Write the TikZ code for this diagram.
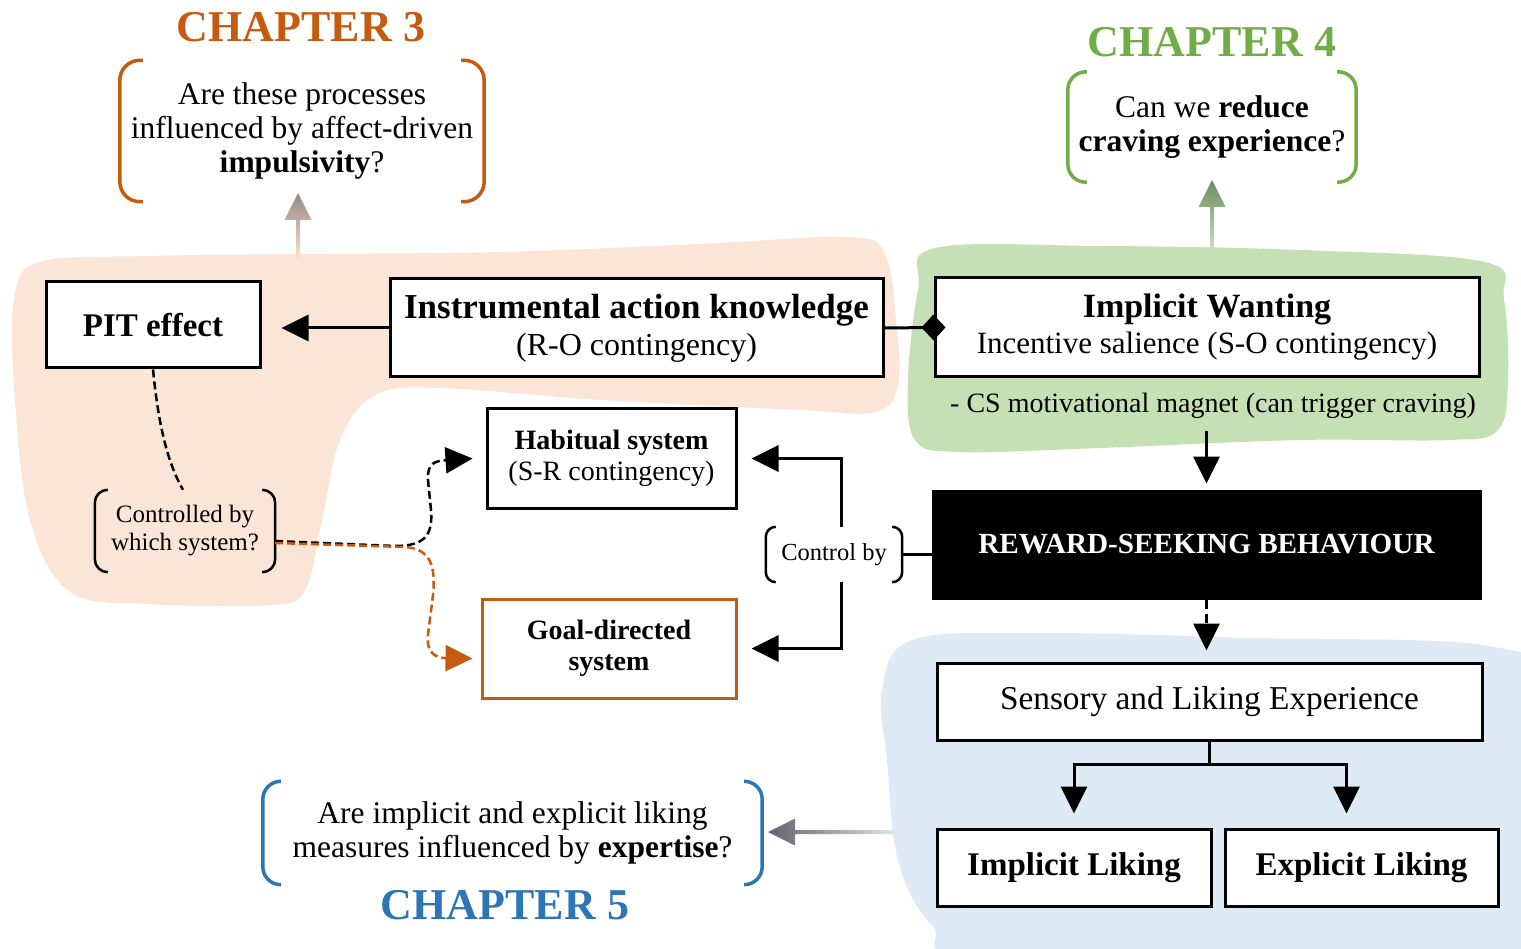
\documentclass[tikz,border=0pt]{standalone}
\usepackage{fontspec}
\setmainfont{Liberation Serif}
\usetikzlibrary{arrows.meta}

\definecolor{chthree}{HTML}{C55A11}
\definecolor{chfour}{HTML}{70AD47}
\definecolor{chfive}{HTML}{2E75B6}
\definecolor{peachbg}{HTML}{FBE5D6}
\definecolor{greenbg}{HTML}{C5E0B4}
\definecolor{bluebg}{HTML}{DEEBF7}

\tikzset{
  box/.style={draw, line width=3pt, fill=white, align=center, inner sep=2pt},
  arr/.style={line width=3pt, -{Triangle[length=27pt,width=26pt]}},
  dasharr/.style={arr, dashed, dash pattern=on 9pt off 5pt},
  qdash/.style={line width=2.5pt, dashed, dash pattern=on 8pt off 4pt},
  qtext/.style={align=center, inner sep=0pt, font=\fontsize{31.5}{34}\selectfont},
  chap/.style={font=\fontsize{44}{50}\selectfont\bfseries},
  brk/.style={line width=3.5pt, rounded corners=#1},
  brk/.default=20pt
}

% brackets round a question node: node, stub, style
\newcommand{\qbrackets}[3]{%
  \draw[#3] ([xshift=#2]#1.north west) -| (#1.west) |- ([xshift=#2]#1.south west);
  \draw[#3] ([xshift=-#2]#1.north east) -| (#1.east) |- ([xshift=-#2]#1.south east);
}

\begin{document}
\begin{tikzpicture}[x=1pt, y=-1pt]
  \useasboundingbox (0,0) rectangle (1521,949);

  % background areas
  \fill[peachbg] plot[smooth cycle, tension=0.6] coordinates {
    (14,300) (40,262) (150,256) (300,254) (500,252) (700,244) (850,237)
    (885,255) (896,320) (898,385) (875,412) (800,410) (600,400) (440,388)
    (375,395) (340,440) (322,520) (305,590) (270,605) (150,604) (70,592)
    (30,520) (15,400)};
  \fill[greenbg] plot[smooth cycle, tension=0.6] coordinates {
    (935,248) (1100,246) (1300,250) (1485,262) (1504,300) (1508,380)
    (1498,430) (1450,440) (1300,440) (1100,448) (960,452) (915,440)
    (908,380) (918,290)};
  \fill[bluebg] plot[smooth cycle, tension=0.6] coordinates {
    (912,640) (1040,633) (1250,638) (1495,647) (1540,700) (1540,960)
    (1000,960) (932,925) (898,860) (887,760) (882,690)};

  % chapter questions
  \node[chap, text=chthree] (ch3) at (301,27) {CHAPTER 3};
  \node[qtext, minimum width=364pt, minimum height=141pt] (q3) at (302,131)
    {Are these processes\\ influenced by affect-driven\\ \textbf{impulsivity}?};
  \node[chap, text=chfour] (ch4) at (1212,42) {CHAPTER 4};
  \node[qtext, minimum width=288pt, minimum height=110pt] (q4) at (1212,127)
    {Can we \textbf{reduce}\\ \textbf{craving experience}?};
  \node[qtext, minimum width=499pt, minimum height=103pt] (q5) at (512.5,833)
    {Are implicit and explicit liking\\ measures influenced by \textbf{expertise}?};
  \node[chap, text=chfive] (ch5) at (505,905) {CHAPTER 5};
  \qbrackets{q3}{23pt}{brk, chthree}
  \qbrackets{q4}{19pt}{brk=18pt, chfour}
  \qbrackets{q5}{17pt}{brk=18pt, chfive}

  % boxes
  \node[box, minimum width=214pt, minimum height=86pt, font=\fontsize{33}{37}\selectfont\bfseries]
    (pit) at (153,325) {PIT effect};
  \node[box, minimum width=493pt, minimum height=98pt, font=\fontsize{32}{37}\selectfont]
    (ia) at (636.5,328) {\fontsize{35}{37}\selectfont\textbf{Instrumental action knowledge}\\ (R-O contingency)};
  \node[box, minimum width=544pt, minimum height=99pt, font=\fontsize{31}{36}\selectfont]
    (iw) at (1207,327.5) {\fontsize{34}{36}\selectfont\textbf{Implicit Wanting}\\ Incentive salience (S-O contingency)};
  \node[inner sep=0pt, font=\fontsize{28}{32}\selectfont] (cs) at (1213,406)
    {- CS motivational magnet (can trigger craving)};
  \node[box, minimum width=249pt, minimum height=99pt, font=\fontsize{28}{31}\selectfont]
    (hab) at (611.5,458.5) {\textbf{Habitual system}\\ (S-R contingency)};
  \node[box, draw=chthree, minimum width=254pt, minimum height=99pt, font=\fontsize{28}{31}\selectfont\bfseries]
    (gd) at (609,648.5) {Goal-directed\\ system};
  \node[box, fill=black, text=white, minimum width=547pt, minimum height=107pt,
    font=\fontsize{29.2}{33}\selectfont\bfseries] (rsb) at (1206.5,544.5) {REWARD-SEEKING BEHAVIOUR};
  \node[box, minimum width=545pt, minimum height=77pt, font=\fontsize{33.3}{36}\selectfont]
    (sle) at (1209.5,701.5) {Sensory and Liking Experience};
  \node[box, minimum width=274pt, minimum height=77pt, font=\fontsize{33}{37}\selectfont\bfseries]
    (il) at (1074,867.5) {Implicit Liking};
  \node[box, minimum width=273pt, minimum height=77pt, font=\fontsize{33}{37}\selectfont\bfseries]
    (el) at (1361.5,867.5) {Explicit Liking};

  % small questions
  \node[qtext, font=\fontsize{25}{28}\selectfont, minimum width=180pt, minimum height=82pt]
    (cwb) at (185,531) {Controlled by\\ which system?};
  \node[qtext, font=\fontsize{24.5}{28}\selectfont, minimum width=136pt, minimum height=55pt]
    (cb) at (834,554.5) {Control by};
  \qbrackets{cwb}{13pt}{brk=13pt, line width=2.5pt}
  \qbrackets{cb}{10pt}{brk=10pt, line width=2.5pt}

  % connectors
  \draw[arr, shorten >=20pt] (ia.west) -- (ia.west -| pit.east);
  \draw[line width=3pt, -{Diamond[length=24pt,width=26pt]}, shorten >=-12pt] (ia.east) -- (iw.west);
  \draw[arr, shorten <=12pt, shorten >=6pt] (cs.south -| rsb.north) -- (rsb.north);
  \draw[dasharr, shorten >=11pt] (rsb.south) -- (rsb.south |- sle.north);
  \draw[arr, shorten >=14pt] (sle.south) -- ++(0,23) -| (il.north);
  \draw[arr, shorten >=14pt] (sle.south) -- ++(0,23) -| ([xshift=-15pt]el.north);
  \draw[arr, shorten >=14pt] ([xshift=7pt]cb.north) |- (hab.east);
  \draw[arr, shorten >=14pt] ([xshift=7pt]cb.south) |- (gd.east);
  \draw[line width=3pt] (cb.east) -- (cb.east -| rsb.west);

  \draw[qdash] (pit.south) .. controls (158,420) and (166,460) .. ([xshift=-2pt]cwb.north);
  \draw[qdash, -{Triangle[length=27pt,width=26pt]}] ([yshift=-10pt]cwb.east) -- (395,546)
    .. controls (425,546) and (433,535) .. (431,510) -- (428,480)
    .. controls (427,463) and (435,461) .. ([xshift=-13pt]hab.west);
  \draw[qdash, chthree, -{Triangle[length=27pt,width=26pt]}] ([yshift=-12pt]cwb.east) -- (405,547)
    .. controls (430,549) and (436,565) .. (433,595) -- (428,635)
    .. controls (426,652) and (435,658) .. ([xshift=-8pt,yshift=-10pt]gd.west);

  % arrows to the chapters
  \coordinate (c3) at (298,258);
  \coordinate (t3) at (298,193);
  \coordinate (c4) at (1212,250);
  \coordinate (t4) at (1212,180);
  \coordinate (c5) at (898,832);
  \coordinate (t5) at (768,832);
  \shade[top color={rgb,255:red,150;green,138;blue,130}, bottom color={rgb,255:red,250;green,224;blue,206}]
    ([xshift=-2pt]c3) -- ([shift={(-2,27)}]t3) -- ([shift={(-13.5,27)}]t3) -- (t3)
    -- ([shift={(13.5,27)}]t3) -- ([shift={(2,27)}]t3) -- ([xshift=2pt]c3) -- cycle;
  \shade[top color={rgb,255:red,112;green,138;blue,100}, bottom color={rgb,255:red,200;green,226;blue,184}]
    ([xshift=-2pt]c4) -- ([shift={(-2,27)}]t4) -- ([shift={(-13.5,27)}]t4) -- (t4)
    -- ([shift={(13.5,27)}]t4) -- ([shift={(2,27)}]t4) -- ([xshift=2pt]c4) -- cycle;
  \shade[left color={rgb,255:red,95;green,100;blue,108}, right color={rgb,255:red,222;green,232;blue,244}]
    ([yshift=2pt]c5) -- ([shift={(27,-2)}]t5) -- ([shift={(27,-13.5)}]t5) -- (t5)
    -- ([shift={(27,13.5)}]t5) -- ([shift={(27,2)}]t5) -- ([yshift=-2pt]c5) -- cycle;
\end{tikzpicture}
\end{document}
